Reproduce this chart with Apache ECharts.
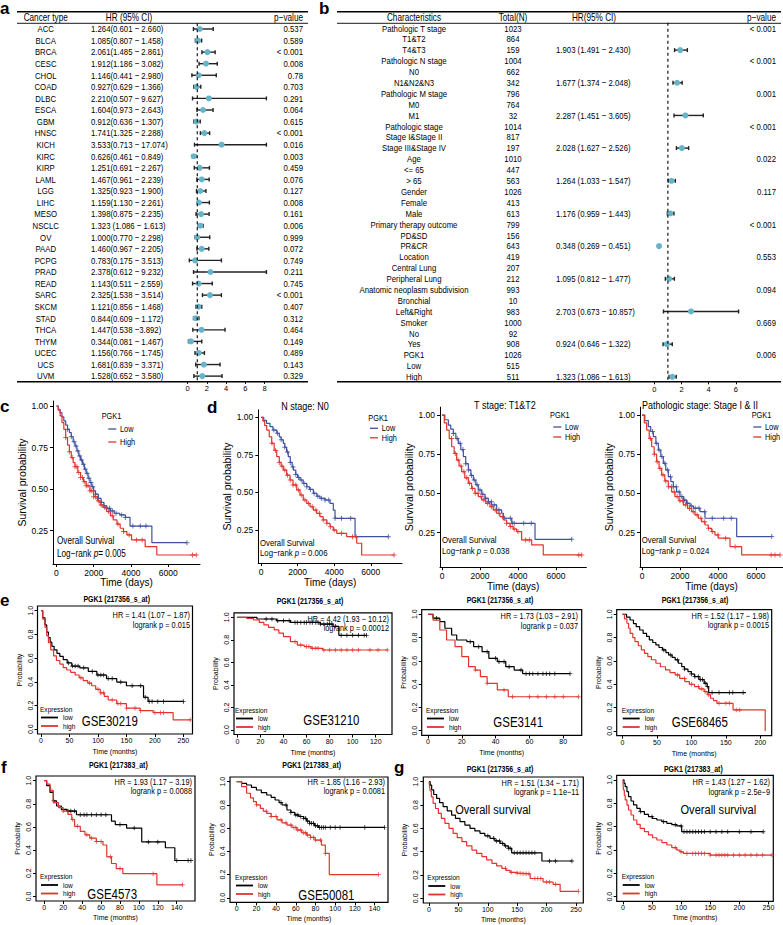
<!DOCTYPE html>
<html>
<head>
<meta charset="utf-8">
<script src="https://cdn.jsdelivr.net/npm/echarts@6.0.0/dist/echarts.min.js"></script>
<style>
html, body { margin: 0; padding: 0; background: #fff; }
#chart { width: 783px; height: 925px; }
</style>
</head>
<body>
<div id="chart"></div>
<script>
// ---------- panel a : pan-cancer forest ----------
var aNames = ['ACC','BLCA','BRCA','CESC','CHOL','COAD','DLBC','ESCA','GBM','HNSC','KICH','KIRC','KIRP','LAML','LGG','LIHC','MESO','NSCLC','OV','PAAD','PCPG','PRAD','READ','SARC','SKCM','STAD','THCA','THYM','UCEC','UCS','UVM'];
var aCI = ['1.264(0.601 − 2.660)','1.085(0.807 − 1.458)','2.061(1.485 − 2.861)','1.912(1.186 − 3.082)','1.146(0.441 − 2.980)','0.927(0.629 − 1.366)','2.210(0.507 − 9.627)','1.604(0.973 − 2.643)','0.912(0.636 − 1.307)','1.741(1.325 − 2.288)','3.533(0.713 − 17.074)','0.626(0.461 − 0.849)','1.251(0.691 − 2.267)','1.467(0.961 − 2.239)','1.325(0.923 − 1.900)','1.159(1.130 − 2.261)','1.398(0.875 − 2.235)','1.323 (1.086 − 1.613)','1.000(0.770 − 2.298)','1.460(0.967 − 2.205)','0.783(0.175 − 3.513)','2.378(0.612 − 9.232)','1.143(0.511 − 2.559)','2.325(1.538 − 3.514)','1.121(0.856 − 1.468)','0.844(0.609 − 1.172)','1.447(0.538 −3.892)','0.344(0.081 − 1.467)','1.156(0.766 − 1.745)','1.681(0.839 − 3.371)','1.528(0.652 − 3.580)'];
var aP = ['0.537','0.589','< 0.001','0.008','0.78','0.703','0.291','0.064','0.615','< 0.001','0.016','0.003','0.459','0.076','0.127','0.008','0.161','0.006','0.999','0.072','0.749','0.211','0.745','< 0.001','0.407','0.312','0.464','0.149','0.489','0.143','0.329'];
var aHR = [1.264,1.085,2.061,1.912,1.146,0.927,2.210,1.604,0.912,1.741,3.533,0.626,1.251,1.467,1.325,1.159,1.398,1.323,1.000,1.460,0.783,2.378,1.143,2.325,1.121,0.844,1.447,0.344,1.156,1.681,1.528];
var aLo = [0.601,0.807,1.485,1.186,0.441,0.629,0.507,0.973,0.636,1.325,0.713,0.461,0.691,0.961,0.923,1.130,0.875,1.086,0.770,0.967,0.175,0.612,0.511,1.538,0.856,0.609,0.538,0.081,0.766,0.839,0.652];
var aHi = [2.660,1.458,2.861,3.082,2.980,1.366,9.627,2.643,1.307,2.288,17.074,0.849,2.267,2.239,1.900,2.261,2.235,1.613,2.298,2.205,3.513,9.232,2.559,3.514,1.468,1.172,3.892,1.467,1.745,3.371,3.580];
var aTicks = [0, 2, 4, 6, 8];

// ---------- panel b : NSCLC clinical forest ----------
var bNames = ['Pathologic T stage','T1&T2','T4&T3','Pathologic N stage','N0','N1&N2&N3','Pathologic M stage','M0','M1','Pathologic stage','Stage I&Stage II','Stage III&Stage IV','Age','<= 65','> 65','Gender','Female','Male','Primary therapy outcome','PD&SD','PR&CR','Location','Central Lung','Peripheral Lung','Anatomic neoplasm subdivision','Bronchial','Left&Right','Smoker','No','Yes','PGK1','Low','High'];
var bN = ['1023','864','159','1004','662','342','796','764','32','1014','817','197','1010','447','563','1026','413','613','799','156','643','419','207','212','993','10','983','1000','92','908','1026','515','511'];
var bCI = ['','','1.903 (1.491 − 2.430)','','','1.677 (1.374 − 2.048)','','','2.287 (1.451 − 3.605)','','','2.028 (1.627 − 2.526)','','','1.264 (1.033 − 1.547)','','','1.176 (0.959 − 1.443)','','','0.348 (0.269 − 0.451)','','','1.095 (0.812 − 1.477)','','','2.703 (0.673 − 10.857)','','','0.924 (0.646 − 1.322)','','','1.323 (1.086 − 1.613)'];
var bP = ['< 0.001','','','< 0.001','','','0.001','','','< 0.001','','','0.022','','','0.117','','','< 0.001','','','0.553','','','0.094','','','0.669','','','0.006','',''];
var bRows = [2,5,8,11,14,17,20,23,26,29,32];
var bHR = [1.903,1.677,2.287,2.028,1.264,1.176,0.348,1.095,2.703,0.924,1.323];
var bLo = [1.491,1.374,1.451,1.627,1.033,0.959,0.269,0.812,0.673,0.646,1.086];
var bHi = [2.430,2.048,3.605,2.526,1.547,1.443,0.451,1.477,10.857,1.322,1.613];
var bTicks = [0, 2, 4, 6];

// ---------- panel c / d : TCGA survival (days), [time, survival] ----------
var cLow = [[0,1],[100,0.98],[200,0.96],[300,0.935],[400,0.91],[500,0.885],[600,0.86],[700,0.84],[800,0.815],[900,0.785],[1000,0.76],[1100,0.73],[1200,0.70],[1300,0.675],[1400,0.65],[1500,0.62],[1600,0.595],[1700,0.565],[1800,0.54],[1900,0.515],[2000,0.49],[2100,0.47],[2250,0.445],[2400,0.42],[2550,0.40],[2700,0.385],[2900,0.37],[3100,0.355],[3400,0.345],[3700,0.33],[3950,0.278],[5120,0.178],[7000,0.178]];
var cHigh = [[0,1],[100,0.975],[200,0.94],[300,0.90],[400,0.86],[500,0.81],[600,0.765],[700,0.725],[800,0.69],[900,0.66],[1000,0.635],[1150,0.60],[1300,0.57],[1450,0.545],[1600,0.52],[1800,0.49],[2000,0.455],[2200,0.43],[2350,0.405],[2500,0.39],[2700,0.365],[2900,0.34],[3050,0.315],[3250,0.29],[3420,0.265],[3600,0.245],[3780,0.225],[4030,0.195],[4760,0.154],[5385,0.104],[7500,0.104]];
var cLowCens = [600,800,950,1050,1150,1250,1350,1450,1550,1650,1750,1850,1950,2100,2250,2400,2550,2700,2850,3000,3200,3500,3700,4100,4500,4800,7000];
var cHighCens = [500,700,850,1000,1100,1200,1300,1400,1500,1600,1700,1800,1900,2000,2100,2250,2400,2600,2800,3000,3300,3600,3900,4300,4600,7300,7500];

var nLow = [[0,1],[150,0.98],[300,0.96],[490,0.938],[650,0.915],[860,0.894],[1000,0.87],[1100,0.85],[1220,0.827],[1300,0.80],[1400,0.77],[1490,0.738],[1600,0.70],[1700,0.67],[1770,0.649],[1900,0.62],[2000,0.60],[2130,0.583],[2300,0.56],[2500,0.538],[2650,0.52],[2860,0.494],[3050,0.475],[3220,0.461],[3500,0.45],[3770,0.427],[3950,0.383],[4045,0.328],[5140,0.206],[6960,0.206]];
var nHigh = [[0,1],[100,0.975],[200,0.945],[311,0.915],[450,0.87],[585,0.827],[720,0.78],[858,0.738],[1000,0.70],[1100,0.675],[1220,0.649],[1400,0.615],[1585,0.583],[1750,0.55],[1950,0.517],[2130,0.483],[2310,0.45],[2500,0.427],[2680,0.405],[2860,0.383],[3040,0.361],[3220,0.339],[3400,0.317],[3600,0.295],[3770,0.272],[3950,0.25],[4140,0.228],[4680,0.206],[5230,0.162],[5500,0.084],[7270,0.084]];
var nLowCens = [700,900,1100,1300,1450,1600,1750,1900,2050,2200,2350,2500,2700,2900,3100,3300,3500,3700,4050,4400,4900,5200,6960];
var nHighCens = [600,800,1000,1150,1300,1450,1600,1750,1900,2050,2200,2400,2600,2800,3000,3200,3400,3600,3800,4000,4400,5000,7270];

var tLow = [[0,1],[150,0.97],[333,0.936],[460,0.91],[596,0.883],[730,0.85],[860,0.82],[990,0.78],[1123,0.735],[1250,0.69],[1386,0.65],[1520,0.615],[1650,0.586],[1780,0.555],[1910,0.522],[2090,0.495],[2260,0.469],[2440,0.447],[2610,0.427],[2880,0.395],[3140,0.374],[3230,0.342],[3670,0.31],[4895,0.208],[6826,0.208]];
var tHigh = [[0,1],[120,0.95],[246,0.904],[380,0.85],[509,0.798],[640,0.755],[772,0.713],[900,0.675],[1035,0.639],[1200,0.60],[1386,0.565],[1560,0.532],[1737,0.501],[1910,0.48],[2088,0.459],[2300,0.437],[2526,0.416],[2700,0.395],[2877,0.374],[3050,0.352],[3228,0.331],[3400,0.31],[3579,0.289],[3750,0.273],[3930,0.257],[4190,0.204],[4720,0.172],[5330,0.108],[7353,0.108]];
var tLowCens = [600,800,950,1100,1250,1400,1550,1700,1850,2000,2150,2300,2450,2600,2750,3000,3300,3600,3700,3800,4300,4700,6826];
var tHighCens = [500,700,850,1000,1150,1300,1450,1600,1750,1900,2050,2200,2400,2600,2800,3000,3200,3400,3600,3800,4000,4400,4600,7200,7353];

var sLow = [[0,1],[150,0.965],[333,0.926],[460,0.895],[596,0.862],[730,0.82],[860,0.777],[990,0.735],[1123,0.692],[1250,0.65],[1386,0.607],[1520,0.575],[1649,0.543],[1820,0.51],[2000,0.48],[2175,0.458],[2351,0.437],[2530,0.42],[2702,0.406],[3053,0.384],[3316,0.342],[4983,0.225],[6826,0.225]];
var sHigh = [[0,1],[120,0.95],[246,0.904],[380,0.85],[509,0.798],[640,0.75],[772,0.703],[900,0.66],[1035,0.618],[1200,0.58],[1386,0.543],[1560,0.51],[1737,0.48],[1950,0.453],[2175,0.427],[2400,0.405],[2614,0.384],[2790,0.363],[2965,0.342],[3140,0.32],[3316,0.299],[3490,0.278],[3667,0.257],[3840,0.236],[4017,0.215],[4632,0.161],[5246,0.108],[7263,0.108]];
var sLowCens = [550,750,900,1050,1200,1350,1500,1650,1800,1950,2100,2250,2400,2600,2800,3000,3300,3700,4300,4700,6826];
var sHighCens = [450,650,800,950,1100,1250,1400,1550,1700,1850,2000,2150,2300,2500,2700,2900,3100,3300,3500,3700,4000,4400,4900,6800,7000,7263];

// ---------- panels e / f / g : KM plotter (months) ----------
var e1Low = [[0,1],[3,0.94],[7,0.88],[10,0.82],[13,0.774],[16,0.735],[19,0.70],[23,0.67],[28,0.64],[33,0.615],[39,0.587],[46,0.56],[54,0.533],[68,0.518],[83,0.488],[98,0.458],[115,0.428],[133,0.398],[150,0.367],[180,0.27],[188,0.235],[250,0.235]];
var e1High = [[0,1],[3,0.93],[7,0.86],[10,0.79],[13,0.73],[17,0.67],[22,0.62],[27,0.58],[33,0.55],[39,0.52],[45,0.50],[52,0.48],[60,0.458],[67,0.435],[74,0.41],[82,0.39],[89,0.367],[96,0.337],[104,0.307],[111,0.277],[118,0.247],[133,0.217],[150,0.178],[174,0.157],[197,0.14],[232,0.08],[262,0.08]];
var e1LowCens = [48,55,60,65,75,90,100,105,110,118,125,140,160,175,183,190,195,205,215,250];
var e1HighCens = [70,85,100,105,110,125,135,140,150,165,175,200,210,215,262];

var e2Low = [[0,1],[17,0.985],[34,0.97],[46,0.955],[72,0.94],[83,0.92],[88,0.84],[112,0.84]];
var e2High = [[0,1],[8,0.99],[14,0.976],[19,0.955],[23,0.932],[27,0.91],[32,0.888],[36,0.86],[40,0.828],[46,0.784],[52,0.754],[58,0.74],[64,0.725],[74,0.71],[130,0.71]];
var e2LowCens = [25,30,35,40,45,50,52,55,58,60,63,65,68,70,72,75,78,80,82,85,90,95,100,105,110,112];
var e2HighCens = [50,55,60,62,65,68,70,75,80,85,90,95,100,105,115,122,130];

var e3Low = [[0,1],[3,0.966],[7,0.937],[10,0.88],[14,0.822],[17,0.779],[23,0.765],[27,0.722],[32,0.679],[36,0.622],[41,0.593],[46,0.55],[51,0.521],[56,0.49],[84,0.49]];
var e3High = [[0,1],[3,0.95],[7,0.865],[11,0.779],[16,0.722],[20,0.636],[24,0.55],[28,0.521],[31,0.464],[35,0.407],[41,0.35],[47.5,0.292],[89,0.292]];
var e3LowCens = [5,25,30,35,40,42,45,48,55,58,60,62,65,68,70,72,75,84];
var e3HighCens = [28,35,45,50,60,65,70,75,80,89];

var e4Low = [[0,1],[6,0.975],[11,0.951],[16,0.92],[20,0.894],[25,0.865],[30,0.837],[35,0.81],[39,0.78],[44,0.758],[48.5,0.737],[53,0.715],[58,0.694],[63,0.672],[67,0.651],[72,0.63],[76.5,0.609],[81,0.58],[86,0.551],[90,0.53],[95,0.509],[100,0.488],[104.5,0.466],[111,0.44],[118.5,0.409],[122.7,0.38],[125,0.329],[179,0.329]];
var e4High = [[0,1],[3,0.96],[6.5,0.923],[9,0.88],[11.2,0.837],[15,0.8],[18.2,0.766],[23,0.73],[27.5,0.694],[32,0.665],[36.8,0.637],[42,0.61],[48.5,0.58],[55,0.55],[62.5,0.523],[69,0.50],[76.5,0.48],[83,0.45],[90.5,0.423],[97,0.40],[104.5,0.38],[111,0.36],[118.5,0.337],[123,0.31],[127.7,0.28],[132,0.26],[137,0.237],[160.4,0.18],[207,0]];
var e4LowCens = [60,70,80,90,100,105,110,113,116,120,123,130,140,155,160,175];
var e4HighCens = [80,90,100,110,115,120,125,140,150,155,165,170];

var f1Low = [[0,1],[2.5,0.956],[6,0.898],[9.5,0.825],[13,0.781],[18,0.751],[24,0.737],[34,0.705],[71,0.65],[75,0.62],[87,0.59],[103,0.47],[128,0.42],[138,0.31],[155,0.31]];
var f1High = [[0,1],[2.5,0.97],[6,0.912],[9.5,0.81],[15,0.766],[20,0.737],[25,0.708],[29,0.664],[32,0.605],[38,0.561],[43,0.532],[48,0.503],[55,0.474],[62,0.444],[66,0.342],[71,0.284],[76,0.24],[83,0.196],[119,0.10],[146,0.10]];
var f1LowCens = [10,25,28,32,38,42,45,50,55,60,65,80,95,110,120,140,152,155];
var f1HighCens = [8,20,30,35,45,50,55,60,70,80,115,146];

var f2Low = [[0,1],[5,0.985],[10,0.971],[15,0.95],[20,0.928],[25,0.905],[30.5,0.885],[35,0.865],[39,0.842],[43,0.82],[46,0.799],[51,0.756],[55,0.735],[59,0.713],[63,0.70],[68,0.684],[71,0.66],[74,0.641],[79,0.62],[83,0.606],[150,0.606]];
var f2High = [[0,1],[5,0.957],[10,0.9],[14,0.86],[17,0.828],[20,0.8],[24,0.77],[27,0.745],[30.5,0.727],[35,0.70],[41,0.67],[46,0.645],[51,0.626],[56,0.605],[61,0.583],[66,0.56],[71,0.54],[75,0.52],[79.5,0.497],[86,0.454],[90,0.382],[94,0.2],[144,0.2]];
var f2LowCens = [45,50,55,60,62,65,68,70,72,74,76,78,80,82,84,86,88,90,95,100,105,130,150];
var f2HighCens = [20,30,35,40,45,50,55,58,60,62,65,68,70,72,75,78,80,85,90,144];

var g1Low = [[0,1],[2,0.97],[4.5,0.929],[8,0.89],[13,0.857],[18,0.82],[24,0.786],[31,0.75],[38.5,0.714],[45,0.685],[52.7,0.657],[61,0.628],[69.7,0.6],[78,0.578],[86.7,0.557],[95,0.535],[103.7,0.514],[112,0.492],[120.7,0.471],[128,0.45],[135,0.429],[140.6,0.39],[192,0.32],[243,0.32]];
var g1High = [[0,1],[1,0.96],[2,0.92],[4,0.87],[7,0.814],[11,0.77],[16,0.729],[21,0.685],[27,0.643],[34,0.6],[41,0.557],[48,0.52],[56,0.486],[64,0.45],[73,0.414],[81,0.385],[90,0.357],[98,0.33],[107,0.30],[115,0.278],[124,0.257],[131,0.24],[138,0.223],[150,0.215],[160,0.21],[172,0.17],[194,0.14],[211,0.12],[223,0.06],[254,0.06]];
var g1LowCens = [100,110,115,120,125,130,135,138,145,150,155,160,165,170,175,180,205,215,243];
var g1HighCens = [130,140,150,155,160,165,170,180,185,190,200,205,215,254];

var g2Low = [[0,1],[2,0.97],[4,0.943],[7,0.9],[9.7,0.857],[14,0.82],[18.3,0.786],[24,0.757],[29.7,0.729],[37,0.705],[44,0.686],[51,0.67],[58.3,0.657],[67,0.643],[75.5,0.629],[84,0.617],[92.6,0.606],[101,0.557],[241,0.557]];
var g2High = [[0,1],[0.5,0.96],[1,0.914],[2.5,0.87],[4,0.829],[7,0.785],[9.7,0.743],[14,0.70],[18.3,0.657],[24,0.62],[29.7,0.586],[37,0.557],[44,0.529],[51,0.505],[58.3,0.486],[67,0.464],[75.5,0.443],[84,0.42],[92.6,0.40],[98,0.385],[104,0.371],[150,0.357],[256,0.357]];
var g2LowCens = [30,50,70,90,100,105,110,115,120,125,130,135,140,150,160,170,180,200,220,241];
var g2HighCens = [90,100,110,120,125,130,135,140,150,160,165,170,175,180,190,200,210,220,230,240,256];

// texts for the KM panels
var ggPText = ['Log−rank {i|p}= 0.005','Log−rank {i|p} = 0.006','Log−rank {i|p} = 0.038','Log−rank {i|p} = 0.024'];
var dTitles = ['N stage: N0','T stage: T1&T2','Pathologic stage: Stage I & II'];
var rTitles = ['PGK1 (217356_s_at)','PGK1 (217356_s_at)','PGK1 (217356_s_at)','PGK1 (217356_s_at)','PGK1 (217383_at)','PGK1 (217383_at)','PGK1 (217356_s_at)','PGK1 (217383_at)'];
var rHR = ['HR = 1.41 (1.07 − 1.87)','HR = 4.42 (1.93 − 10.12)','HR = 1.73 (1.03 − 2.91)','HR = 1.52 (1.17 − 1.98)','HR = 1.93 (1.17 − 3.19)','HR = 1.85 (1.16 − 2.93)','HR = 1.51 (1.34 − 1.71)','HR = 1.43 (1.27 − 1.62)'];
var rP = ['logrank p = 0.015','logrank p = 0.00012','logrank p = 0.037','logrank p = 0.0015','logrank p = 0.0088','logrank p = 0.0081','logrank p = 1.1e−11','logrank p = 2.5e−9'];
var rBig = ['GSE30219','GSE31210','GSE3141','GSE68465','GSE4573','GSE50081','Overall survival','Overall survival'];

var FONT = '"Liberation Sans", Arial, sans-serif';
var SX = 0.82;   // the figure's lettering is a narrow Helvetica
var BLUE = '#3F51A1', RED = '#E2342D', TEAL = '#66B4C9';
var PLUS = 'path://M4,0H6V4H10V6H6V10H4V6H0V4H4Z';

var grids = [], xAxes = [], yAxes = [], series = [], graphics = [];

function T(x, y, s, o) {
    o = o || {};
    var al = o.align || 'left';
    var st = {
        text: s, fill: o.color || '#000',
        fontSize: o.size || 10, fontFamily: FONT,
        fontWeight: o.weight || 'normal', fontStyle: 'normal',
        align: al, textAlign: al, verticalAlign: 'middle', textVerticalAlign: 'middle'
    };
    if (o.rich) st.rich = o.rich;
    return {type: 'text', x: x, y: y, scaleX: o.sx || SX, silent: true, style: st};
}
function L(x1, y1, x2, y2, color, w) {
    return {type: 'line', silent: true, shape: {x1: x1, y1: y1, x2: x2, y2: y2},
        style: {stroke: color || '#000', lineWidth: w || 1}};
}

function stepAt(curve, t) {
    var s = curve[0][1];
    for (var i = 0; i < curve.length; i++) {
        if (curve[i][0] <= t) s = curve[i][1]; else break;
    }
    return s;
}

// ---------- forest plots ----------
function addForest(f) {
    var gi = grids.length;
    grids.push(f.box);
    xAxes.push({
        type: 'value', gridIndex: gi, min: f.xr[0], max: f.xr[1],
        axisLine: {show: false, onZero: false}, splitLine: {show: false},
        axisTick: {show: true, customValues: f.ticks, length: 2, lineStyle: {color: '#000'}},
        axisLabel: {customValues: f.ticks, fontSize: 7.5, margin: 3, color: '#000', fontFamily: FONT}
    });
    yAxes.push({type: 'value', gridIndex: gi, min: f.yr[0], max: f.yr[1], inverse: true, show: false});

    // reference line at HR = 1
    series.push({
        type: 'line', xAxisIndex: gi, yAxisIndex: gi, data: [[1, f.yr[0]], [1, f.yr[1]]],
        symbol: 'none', silent: true, lineStyle: {color: '#000', width: 1.1, type: [3, 3]}
    });

    // whiskers + points
    series.push({
        type: 'custom', xAxisIndex: gi, yAxisIndex: gi, silent: true, data: f.points,
        renderItem: function (params, api) {
            var cs = params.coordSys;
            var row = api.value(3);
            var c = api.coord([api.value(0), row]);
            var xl = Math.max(api.coord([api.value(1), row])[0], cs.x);
            var xr = Math.min(api.coord([api.value(2), row])[0], cs.x + cs.width);
            var y = c[1];
            return {type: 'group', children: [
                {type: 'line', shape: {x1: xl, y1: y, x2: xr, y2: y}, style: {stroke: '#222', lineWidth: 1.4}},
                {type: 'line', shape: {x1: xl, y1: y - 2, x2: xl, y2: y + 2}, style: {stroke: '#222', lineWidth: 1.4}},
                {type: 'line', shape: {x1: xr, y1: y - 2, x2: xr, y2: y + 2}, style: {stroke: '#222', lineWidth: 1.4}},
                {type: 'circle', shape: {cx: c[0], cy: y, r: 3}, style: {fill: TEAL}}
            ]};
        }
    });

    // table columns
    series.push({
        type: 'custom', xAxisIndex: gi, yAxisIndex: gi, silent: true, clip: false,
        data: f.cols[0].arr.map(function (_, i) { return [0, i]; }),
        renderItem: function (params, api) {
            var i = params.dataIndex;
            var y = api.coord([0, i])[1];
            return {type: 'group', children: f.cols.map(function (col) {
                return T(col.x, y, col.arr[i], {align: col.align, size: 9.5});
            })};
        }
    });

    // header and rules
    f.heads.forEach(function (h) { graphics.push(T(h[0], 17.3, h[1], {align: h[2], size: 10})); });
    graphics.push(L(f.rule[0], 11.7, f.rule[1], 11.7, '#000', 1.6));
    graphics.push(L(f.rule[0], 23.3, f.rule[1], 23.3, '#000', 0.9));
    graphics.push(L(f.rule[0], 381.8, f.rule[1], 381.8, '#000', 1.6));
}

addForest({
    box: {left: 181.9, top: 23.2, width: 84.5, height: 358.7},
    xr: [-0.6, 8.2], yr: [-0.5, 30.5], ticks: aTicks,
    points: aHR.map(function (h, i) { return [h, aLo[i], aHi[i], i]; }),
    cols: [{x: 45.7, align: 'center', arr: aNames}, {x: 91, align: 'left', arr: aCI}, {x: 303, align: 'right', arr: aP}],
    heads: [[45.7, 'Cancer type', 'center'], [129, 'HR (95% CI)', 'center'], [303, 'p−value', 'right']],
    rule: [17, 308]
});
addForest({
    box: {left: 647.5, top: 22.86, width: 91.1, height: 359.4},
    xr: [-0.5, 6.2], yr: [-0.5, 32.5], ticks: bTicks,
    points: bHR.map(function (h, i) { return [h, bLo[i], bHi[i], bRows[i]]; }),
    cols: [{x: 414, align: 'center', arr: bNames}, {x: 513, align: 'center', arr: bN}, {x: 556, align: 'left', arr: bCI}, {x: 776, align: 'right', arr: bP}],
    heads: [[414, 'Characteristics', 'center'], [513, 'Total(N)', 'center'], [594, 'HR(95% CI)', 'center'], [776, 'p−value', 'right']],
    rule: [337, 781]
});

// ---------- survival panels ----------
function addKM(p) {
    var gi = grids.length;
    var gg = p.kind === 'gg';
    var box = Object.assign({}, p.box);
    if (!gg) { box.show = true; box.borderColor = '#000'; box.borderWidth = 1.2; }
    grids.push(box);
    var lab = gg ? {size: 8.5, nameSize: 10} : {size: 7, nameSize: 7};
    xAxes.push({
        type: 'value', gridIndex: gi, min: p.xr[0], max: p.xr[1],
        name: p.xname, nameLocation: 'middle', nameGap: gg ? 13 : p.xgap,
        nameTextStyle: {fontSize: lab.nameSize, fontFamily: FONT, color: '#000'},
        axisLine: {show: gg, onZero: false, lineStyle: {color: '#000', width: 1}},
        axisTick: {show: true, customValues: p.xt, length: 3, lineStyle: {color: '#000'}},
        axisLabel: {customValues: p.xt, fontSize: lab.size, margin: gg ? 4 : 3, color: '#000', fontFamily: FONT,
            formatter: function (v) { return String(v); }},
        splitLine: {show: false}
    });
    yAxes.push({
        type: 'value', gridIndex: gi, min: p.yr[0], max: p.yr[1],
        name: p.yname, nameLocation: 'middle', nameGap: p.ygap,
        nameTextStyle: {fontSize: gg ? 10.5 : 7, fontFamily: FONT, color: '#000'},
        axisLine: {show: gg, onZero: false, lineStyle: {color: '#000', width: 1}},
        axisTick: {show: true, customValues: p.yt, length: 3, lineStyle: {color: '#000'}},
        axisLabel: {customValues: p.yt, fontSize: lab.size, margin: gg ? 5 : 4, color: '#000', fontFamily: FONT,
            rotate: gg ? 0 : 90,
            formatter: function (v) { return v.toFixed(gg ? 2 : 1); }},
        splitLine: {show: false}
    });
    p.curves.forEach(function (c) {
        series.push({
            type: 'line', xAxisIndex: gi, yAxisIndex: gi, data: c[0], step: 'end',
            symbol: 'none', silent: true, lineStyle: {color: c[2], width: 1.2}
        });
        series.push({
            type: 'scatter', xAxisIndex: gi, yAxisIndex: gi, silent: true,
            data: c[1].map(function (t) { return [t, stepAt(c[0], t)]; }),
            symbol: PLUS, symbolSize: gg ? 5 : 4.5, itemStyle: {color: c[2]}
        });
    });
}

var ggY = [0.25, 0.5, 0.75, 1];
var ggX = [0, 2000, 4000, 6000];
addKM({kind: 'gg', box: {left: 53, top: 401, width: 147, height: 163}, xr: [-180, 7700], yr: [0.05, 1.03],
    xt: ggX, yt: ggY, xname: 'Time (days)', yname: 'Survival probability', ygap: 25,
    curves: [[cLow, cLowCens, BLUE], [cHigh, cHighCens, RED]]});
addKM({kind: 'gg', box: {left: 258.3, top: 409.8, width: 143.7, height: 153.3}, xr: [-148, 7705], yr: [0.03, 1.05],
    xt: ggX, yt: ggY, xname: 'Time (days)', yname: 'Survival probability', ygap: 25,
    curves: [[nLow, nLowCens, BLUE], [nHigh, nHighCens, RED]]});
addKM({kind: 'gg', box: {left: 440, top: 407.2, width: 146.4, height: 160}, xr: [-105, 7600], yr: [0.03, 1.05],
    xt: ggX, yt: ggY, xname: 'Time (days)', yname: 'Survival probability', ygap: 23,
    curves: [[tLow, tLowCens, BLUE], [tHigh, tHighCens, RED]]});
addKM({kind: 'gg', box: {left: 640, top: 407.2, width: 143, height: 160}, xr: [-105, 7421], yr: [0.03, 1.05],
    xt: ggX, yt: ggY, xname: 'Time (days)', yname: 'Survival probability', ygap: 25,
    curves: [[sLow, sLowCens, BLUE], [sHigh, sHighCens, RED]]});

var rY = [0, 0.2, 0.4, 0.6, 0.8, 1];
var m50 = [0, 50, 100, 150, 200, 250];
var m20 = [0, 20, 40, 60, 80, 100, 120, 140];
var rPanels = [
    {box: {left: 37.5, top: 606, width: 155, height: 128}, xr: [-6.2, 266], xt: m50, xgap: 14, curves: [[e1Low, e1LowCens, '#000'], [e1High, e1HighCens, RED]]},
    {box: {left: 234, top: 612.8, width: 158, height: 121.7}, xr: [-2.9, 134.1], xt: [0, 20, 40, 60, 80, 100, 120], xgap: 14, curves: [[e2Low, e2LowCens, '#000'], [e2High, e2HighCens, RED]]},
    {box: {left: 421.7, top: 609.6, width: 160, height: 125.8}, xr: [-3.7, 90.9], xt: [0, 20, 40, 60, 80], xgap: 14, curves: [[e3Low, e3LowCens, '#000'], [e3High, e3HighCens, RED]]},
    {box: {left: 616.7, top: 609.6, width: 155, height: 126}, xr: [-8.3, 216.4], xt: [0, 50, 100, 150, 200], xgap: 14, curves: [[e4Low, e4LowCens, '#000'], [e4High, e4HighCens, RED]]},
    {box: {left: 36, top: 776, width: 159, height: 125}, xr: [-8.8, 159.3], xt: m20, xgap: 13, curves: [[f1Low, f1LowCens, '#000'], [f1High, f1HighCens, RED]]},
    {box: {left: 230, top: 777, width: 158, height: 125.4}, xr: [-6.8, 153.6], xt: m20, xgap: 13, curves: [[f2Low, f2LowCens, '#000'], [f2High, f2HighCens, RED]]},
    {box: {left: 423.3, top: 777, width: 160, height: 126}, xr: [-9.7, 262.4], xt: m50, xgap: 13, curves: [[g1Low, g1LowCens, '#000'], [g1High, g1HighCens, RED]]},
    {box: {left: 616.7, top: 775.3, width: 156.6, height: 126.1}, xr: [-10.6, 258.3], xt: m50, xgap: 13, curves: [[g2Low, g2LowCens, '#000'], [g2High, g2HighCens, RED]]}
];
rPanels.forEach(function (p) {
    addKM(Object.assign({kind: 'r', yr: [-0.04, 1.04], yt: rY, xname: 'Time (months)', yname: 'Probability', ygap: 15}, p));
});

// ---------- annotations ----------
// ggsurvplot legends and notes
[[101.7, 416, 429, 442, 108.3, 120], [368.3, 418, 428.3, 437.8, 370, 381.7], [550, 415, 427, 437, 553.3, 565], [751.7, 415, 427, 437, 753.3, 765]]
    .forEach(function (g) {
        graphics.push(T(g[0], g[1], 'PGK1', {size: 9}));
        graphics.push(L(g[4], g[2], g[4] + 8, g[2], BLUE, 1.3));
        graphics.push(T(g[5], g[2], 'Low', {size: 9}));
        graphics.push(L(g[4], g[3], g[4] + 8, g[3], RED, 1.3));
        graphics.push(T(g[5], g[3], 'High', {size: 9}));
    });
[[57, 541, 554, 10], [260, 543, 553, 9.5], [442, 540, 551, 9.5], [641.7, 540, 551, 9.5]]
    .forEach(function (g, i) {
        graphics.push(T(g[0], g[1], 'Overall Survival', {size: g[3]}));
        graphics.push(T(g[0], g[2], ggPText[i], {size: g[3],
            rich: {i: {fontStyle: 'italic', fontSize: g[3], fontFamily: FONT, fill: '#000'}}}));
    });
[[305, 406], [505, 405], [700, 405]].forEach(function (g, i) {
    graphics.push(T(g[0], g[1], dTitles[i], {align: 'center', size: 11}));
});

// KM plotter titles, HR texts, legends, labels
var rTitlePos = [[116.7, 599], [310, 601.5], [500, 600.5], [695, 600.5], [118.3, 765], [311.7, 765], [500, 769], [693.3, 769]];
var rHRPos = [[190, 615, 625], [389, 619, 627.8], [578, 616.5, 626.5], [769, 616, 625], [192, 782.7, 791.7], [385, 782.7, 791.7], [579, 783.3, 792.7], [770, 782.7, 792]];
var rLegPos = [[40, 709], [235, 710], [426, 710], [621.7, 710], [40, 876.5], [235, 877], [427.3, 877.5], [621.7, 876.5]];
var rBigPos = [[81.7, 720.7, 'left', 14], [303.3, 720, 'left', 14], [493.3, 721.7, 'left', 14], [671.7, 721.7, 'left', 14],
    [87.3, 894, 'left', 14], [298.3, 895, 'left', 14], [493, 810, 'center', 13.5], [718.3, 810, 'center', 13.5]];
rTitles.forEach(function (s, i) {
    graphics.push(T(rTitlePos[i][0], rTitlePos[i][1], s, {align: 'center', size: 8.5, weight: 'bold'}));
    graphics.push(T(rHRPos[i][0], rHRPos[i][1], rHR[i], {align: 'right', size: 9}));
    graphics.push(T(rHRPos[i][0], rHRPos[i][2], rP[i], {align: 'right', size: 9}));
    var g = rLegPos[i];
    graphics.push(T(g[0], g[1], 'Expression', {size: 8}));
    graphics.push(L(g[0] + 1, g[1] + 8.5, g[0] + 18, g[1] + 8.5, '#000', 1.8));
    graphics.push(T(g[0] + 23, g[1] + 8.5, 'low', {size: 8}));
    graphics.push(L(g[0] + 1, g[1] + 17, g[0] + 18, g[1] + 17, RED, 1.8));
    graphics.push(T(g[0] + 23, g[1] + 17, 'high', {size: 8}));
    var b = rBigPos[i];
    graphics.push(T(b[0], b[1], rBig[i], {align: b[2], size: b[3]}));
});

// panel letters
[['a', 0, 8], ['b', 319, 8], ['c', 0, 406], ['d', 207, 407], ['e', 0, 600], ['f', 1, 767], ['g', 394, 767]]
    .forEach(function (l) {
        graphics.push(T(l[1], l[2], l[0], {size: 17, weight: 'bold', sx: 1}));
    });

var chart = echarts.init(document.getElementById('chart'), null, {renderer: 'svg'});
chart.setOption({
    animation: false,
    backgroundColor: '#fff',
    grid: grids,
    xAxis: xAxes,
    yAxis: yAxes,
    series: series,
    graphic: {elements: graphics}
});
</script>
</body>
</html>
